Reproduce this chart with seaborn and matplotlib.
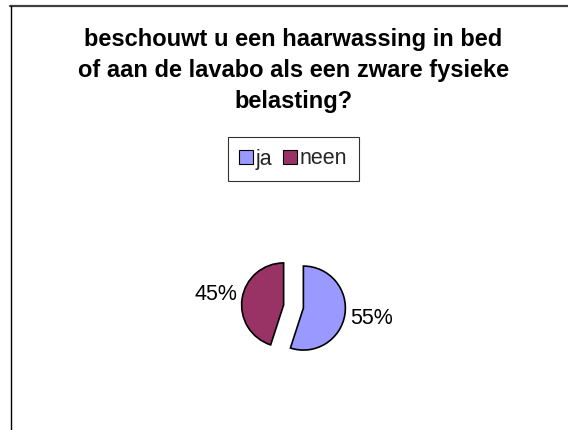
import matplotlib
matplotlib.use("Agg")
import matplotlib.pyplot as plt
import seaborn as sns
from matplotlib.lines import Line2D

categories = ["ja", "neen"]
values = [55, 45]
colors = ["#9999FF", "#993366"]
title = "beschouwt u een haarwassing in bed\nof aan de lavabo als een zware fysieke\nbelasting?"

sns.set_style("white")
plt.rcParams["font.family"] = ["Liberation Sans", "DejaVu Sans"]

W, H = 568, 430
fig = plt.figure(figsize=(W / 100, H / 100), dpi=100)
fig.patch.set_facecolor("white")
ax = fig.add_axes([0, 0, 1, 1])

R = 42
cx, cy = 293.5, H - 306.5
wedges, texts, autotexts = ax.pie(
    values,
    labels=None,
    colors=colors,
    startangle=90,
    counterclock=False,
    explode=[10, 10],
    radius=R,
    center=(cx, cy),
    autopct="%1.0f%%",
    pctdistance=1.64,
    wedgeprops=dict(edgecolor="black", linewidth=1.2),
    textprops=dict(fontsize=15.5, color="black"),
    frame=False,
)
ax.set_xlim(0, W)
ax.set_ylim(0, H)
ax.set_aspect("equal")
ax.axis("off")

fig.text(293.5 / W, 1 - 28 / H, title, ha="center", va="top", fontsize=17,
         fontweight="bold", linespacing=1.45, color="black")

leg = fig.legend(wedges, categories, loc="center", bbox_to_anchor=(293.5 / W, 1 - 159 / H),
                 ncol=2, fontsize=15.5, frameon=True, fancybox=False, shadow=False,
                 handlelength=0.62, handleheight=0.62, handletextpad=0.15,
                 columnspacing=0.5, borderpad=0.55)
leg.get_frame().set_edgecolor("black")
leg.get_frame().set_linewidth(0.8)
for h in leg.legend_handles:
    h.set_linewidth(0.8)

# outer chart frame (top and left edges visible)
fig.add_artist(Line2D([10 / W, 1], [1 - 6 / H, 1 - 6 / H], transform=fig.transFigure,
                      color="#404040", linewidth=1.6))
fig.add_artist(Line2D([10.5 / W, 10.5 / W], [1 - 6 / H, 0], transform=fig.transFigure,
                      color="black", linewidth=1.0))

fig.savefig("out.png", dpi=100, facecolor="white")
